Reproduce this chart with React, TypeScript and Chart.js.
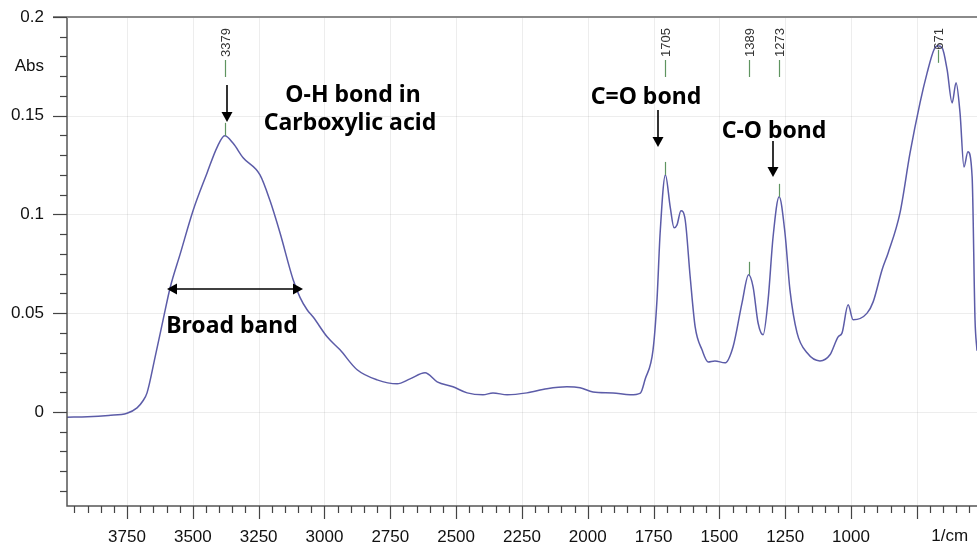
import React, { useEffect, useRef } from 'react';
import { Chart, registerables } from 'chart.js';

Chart.register(...registerables);

// ---- data (wavenumber in 1/cm, absorbance) ----
const wavenumbers = [
  3978, 3900, 3820, 3750, 3712, 3690, 3674, 3643, 3613, 3586, 3548, 3499, 3446, 3408, 3379, 3347, 3309, 3245,
  3207, 3169, 3119, 3093, 3066, 3043, 2990, 2941, 2876, 2800, 2724, 2675, 2618, 2572, 2512, 2458, 2398, 2360,
  2306, 2231, 2155, 2079, 2029, 1980, 1904, 1839, 1800, 1782, 1752, 1737, 1725, 1705, 1687, 1672, 1661, 1646,
  1630, 1611, 1592, 1566, 1543, 1517, 1479, 1448, 1414, 1389, 1372, 1353, 1334, 1315, 1296, 1273, 1251, 1232,
  1205, 1167, 1118, 1080, 1049, 1034, 1011, 992, 939, 916, 882, 859, 814, 776, 738, 711, 685, 671, 654, 635,
  616, 601, 586, 571, 556, 540, 529, 521.5,
];
const absorbance = [
  -0.0027, -0.0025, -0.0018, -0.0007, 0.002, 0.0055, 0.0096, 0.028, 0.0466, 0.063, 0.08, 0.102, 0.121, 0.134,
  0.1398, 0.136, 0.1287, 0.12, 0.107, 0.0907, 0.0669, 0.058, 0.0517, 0.048, 0.038, 0.0314, 0.0213, 0.0162,
  0.0142, 0.0167, 0.0198, 0.0152, 0.0127, 0.0096, 0.0086, 0.0096, 0.0086, 0.0096, 0.0117, 0.0127, 0.0122,
  0.0101, 0.0096, 0.0086, 0.0095, 0.0165, 0.0314, 0.0567, 0.0907, 0.12, 0.104, 0.0932, 0.0947, 0.1018, 0.0973,
  0.0684, 0.043, 0.0314, 0.0253, 0.0258, 0.0248, 0.033, 0.0552, 0.0694, 0.0633, 0.045, 0.039, 0.0567, 0.0887,
  0.1089, 0.0907, 0.0618, 0.04, 0.0299, 0.0258, 0.0289, 0.038, 0.04, 0.0542, 0.0466, 0.05, 0.0557, 0.072,
  0.0805, 0.1008, 0.131, 0.1565, 0.1717, 0.1834, 0.1854, 0.1844, 0.1733, 0.1565, 0.1667, 0.1515, 0.124,
  0.1317, 0.119, 0.0466, 0.031,
];

const xMajorTicks = [3750, 3500, 3250, 3000, 2750, 2500, 2250, 2000, 1750, 1500, 1250, 1000, 750];
const xTickLabels = ['3750', '3500', '3250', '3000', '2750', '2500', '2250', '2000', '1750', '1500', '1250', '1000', ''];
const xMinorTicks = Array.from({ length: 69 }, (_, i) => 550 + i * 50);
const yMajorTicks = [0, 0.05, 0.1, 0.15, 0.2];
const yTickLabels = ['0', '0.05', '0.1', '0.15', '0.2'];
const yMinorTicks = Array.from({ length: 25 }, (_, i) => Math.round((-0.04 + i * 0.01) * 1000) / 1000);

const peakWavenumbers = [3379, 1705, 1389, 1273, 671];
const peakAbsorbance = [0.1398, 0.12, 0.0694, 0.1089, 0.1854];
const peakLabels = ['3379', '1705', '1389', '1273', '671'];

const X_MIN = 521.5;
const X_MAX = 3978;
const Y_MIN = -0.0477;
const Y_MAX = 0.2;

const FONT = '"Liberation Sans", Arial, sans-serif';
const BOLD = 'bold 23px "Noto Sans", "Liberation Sans", sans-serif';

function arrowHead(ctx: CanvasRenderingContext2D, x: number, y: number, dx: number, dy: number) {
  const len = 10, half = 5.5;
  const bx = x - dx * len, by = y - dy * len;
  ctx.beginPath();
  ctx.moveTo(x, y);
  ctx.lineTo(bx - dy * half, by + dx * half);
  ctx.lineTo(bx + dy * half, by - dx * half);
  ctx.closePath();
  ctx.fill();
}

function downArrow(ctx: CanvasRenderingContext2D, x: number, y1: number, y2: number) {
  ctx.beginPath();
  ctx.moveTo(x, y1);
  ctx.lineTo(x, y2 - 8);
  ctx.stroke();
  arrowHead(ctx, x, y2, 0, 1);
}

const decorPlugin = {
  id: 'decor',
  beforeDatasetsDraw(chart: any) {
    const { ctx, chartArea, scales } = chart;
    const xs = scales.x, ys = scales.y;
    ctx.save();
    ctx.strokeStyle = 'rgba(0,0,0,0.07)';
    ctx.lineWidth = 1;
    xMajorTicks.forEach((v) => {
      const x = Math.round(xs.getPixelForValue(v)) + 0.5;
      ctx.beginPath();
      ctx.moveTo(x, chartArea.top);
      ctx.lineTo(x, chartArea.bottom);
      ctx.stroke();
    });
    yMajorTicks.forEach((v) => {
      const y = Math.round(ys.getPixelForValue(v)) + 0.5;
      ctx.beginPath();
      ctx.moveTo(chartArea.left, y);
      ctx.lineTo(chartArea.right, y);
      ctx.stroke();
    });
    ctx.restore();
  },
  afterDraw(chart: any) {
    const { ctx, chartArea, scales } = chart;
    const xs = scales.x, ys = scales.y;
    const L = chartArea.left, B = chartArea.bottom, T = chartArea.top, R = chartArea.right;
    ctx.save();
    ctx.strokeStyle = '#555';
    ctx.lineWidth = 1.5;
    ctx.beginPath();
    ctx.moveTo(L, T);
    ctx.lineTo(L, B);
    ctx.lineTo(R, B);
    ctx.stroke();
    ctx.strokeStyle = '#8a8a8a';
    ctx.lineWidth = 2;
    ctx.beginPath();
    ctx.moveTo(L - 14, T);
    ctx.lineTo(R, T);
    ctx.stroke();
    ctx.strokeStyle = '#444';
    ctx.lineWidth = 1.2;
    xMinorTicks.forEach((v) => {
      const x = Math.round(xs.getPixelForValue(v)) + 0.5;
      const major = v % 250 === 0;
      ctx.beginPath();
      ctx.moveTo(x, B);
      ctx.lineTo(x, B + (major ? 13 : 7));
      ctx.stroke();
    });
    yMinorTicks.forEach((v) => {
      const y = Math.round(ys.getPixelForValue(v)) + 0.5;
      const major = Math.abs(Math.round(v * 1000) % 50) === 0;
      ctx.beginPath();
      ctx.moveTo(L, y);
      ctx.lineTo(L - (major ? 14 : 7), y);
      ctx.stroke();
    });
    ctx.fillStyle = '#111';
    ctx.font = '17px ' + FONT;
    ctx.textAlign = 'right';
    ctx.textBaseline = 'middle';
    ctx.fillText('Abs', L - 23, ys.getPixelForValue(0.175));
    ctx.textAlign = 'center';
    ctx.fillText('1/cm', xs.getPixelForValue(625), B + 30);

    peakWavenumbers.forEach((w, i) => {
      const x = Math.round(xs.getPixelForValue(w)) + 0.5;
      const py = ys.getPixelForValue(peakAbsorbance[i]);
      ctx.strokeStyle = '#5f9460';
      ctx.lineWidth = 1.2;
      if (py > 90) {
        ctx.beginPath();
        ctx.moveTo(x, T + 43);
        ctx.lineTo(x, T + 60);
        ctx.stroke();
        ctx.beginPath();
        ctx.moveTo(x, py - 13);
        ctx.lineTo(x, py);
        ctx.stroke();
      } else {
        ctx.beginPath();
        ctx.moveTo(x, py + 4);
        ctx.lineTo(x, py + 17);
        ctx.stroke();
      }
      ctx.save();
      ctx.translate(x + 0.5, T + 11);
      ctx.rotate(-Math.PI / 2);
      ctx.fillStyle = '#333';
      ctx.font = '13px ' + FONT;
      ctx.textAlign = 'right';
      ctx.textBaseline = 'middle';
      ctx.fillText(peakLabels[i], 0, 0);
      ctx.restore();
    });

    ctx.fillStyle = '#000';
    ctx.strokeStyle = '#000';
    ctx.font = BOLD;
    ctx.textAlign = 'center';
    ctx.textBaseline = 'middle';
    ctx.fillText('O-H bond in', 353, 95);
    ctx.fillText('Carboxylic acid', 350, 123);
    ctx.fillText('Broad band', 232, 326);
    ctx.fillText('C=O bond', 646, 97);
    ctx.fillText('C-O bond', 774, 131);

    ctx.lineWidth = 1.6;
    downArrow(ctx, 227, 85, 122);
    downArrow(ctx, 658, 110, 147);
    downArrow(ctx, 773, 141, 177);
    ctx.beginPath();
    ctx.moveTo(175, 289);
    ctx.lineTo(295, 289);
    ctx.stroke();
    arrowHead(ctx, 167, 289, -1, 0);
    arrowHead(ctx, 303, 289, 1, 0);
    ctx.restore();
  },
};

export default function App() {
  const ref = useRef<HTMLCanvasElement>(null);
  useEffect(() => {
    if (!ref.current) return;
    Chart.defaults.font.family = FONT;
    const points = wavenumbers.map((w, i) => ({ x: w, y: absorbance[i] }));
    const chart = new Chart(ref.current, {
      type: 'line',
      data: {
        datasets: [
          {
            label: 'Absorbance',
            data: points,
            borderColor: '#5c5ca8',
            borderWidth: 1.5,
            pointRadius: 0,
            fill: false,
            cubicInterpolationMode: 'monotone',
          },
        ],
      },
      options: {
        responsive: false,
        animation: false,
        devicePixelRatio: 1,
        layout: { padding: { top: 17, right: 0, left: 0, bottom: 0 } },
        plugins: { legend: { display: false }, tooltip: { enabled: false } },
        scales: {
          x: {
            type: 'linear',
            reverse: true,
            min: X_MIN,
            max: X_MAX,
            grid: { display: false, drawTicks: false },
            border: { display: false },
            afterBuildTicks: (s: any) => {
              s.ticks = xMajorTicks.map((v) => ({ value: v }));
            },
            afterFit: (s: any) => {
              s.height = 41;
              s.paddingLeft = 0;
              s.paddingRight = 0;
              s.paddingTop = 0;
              s.paddingBottom = 0;
            },
            ticks: {
              autoSkip: false,
              maxRotation: 0,
              padding: 21,
              color: '#111',
              font: { size: 17, family: FONT },
              callback: (v: any) => {
                const i = xMajorTicks.indexOf(Number(v));
                return i >= 0 ? xTickLabels[i] : '';
              },
            },
          },
          y: {
            type: 'linear',
            min: Y_MIN,
            max: Y_MAX,
            grid: { display: false, drawTicks: false },
            border: { display: false },
            afterBuildTicks: (s: any) => {
              s.ticks = yMajorTicks.map((v) => ({ value: v }));
            },
            afterFit: (s: any) => {
              s.width = 67;
              s.paddingLeft = 0;
              s.paddingRight = 0;
              s.paddingTop = 0;
              s.paddingBottom = 0;
            },
            ticks: {
              padding: 23,
              color: '#111',
              font: { size: 17, family: FONT },
              callback: (v: any) => {
                const i = yMajorTicks.findIndex((t) => Math.abs(t - Number(v)) < 1e-9);
                return i >= 0 ? yTickLabels[i] : '';
              },
            },
          },
        },
      },
      plugins: [decorPlugin],
    });
    return () => chart.destroy();
  }, []);
  return (
    <div style={{ position: 'fixed', left: 0, top: 0, width: 977, height: 547, background: '#fff' }}>
      <canvas ref={ref} width={977} height={547} style={{ display: 'block', width: 977, height: 547 }} />
    </div>
  );
}
